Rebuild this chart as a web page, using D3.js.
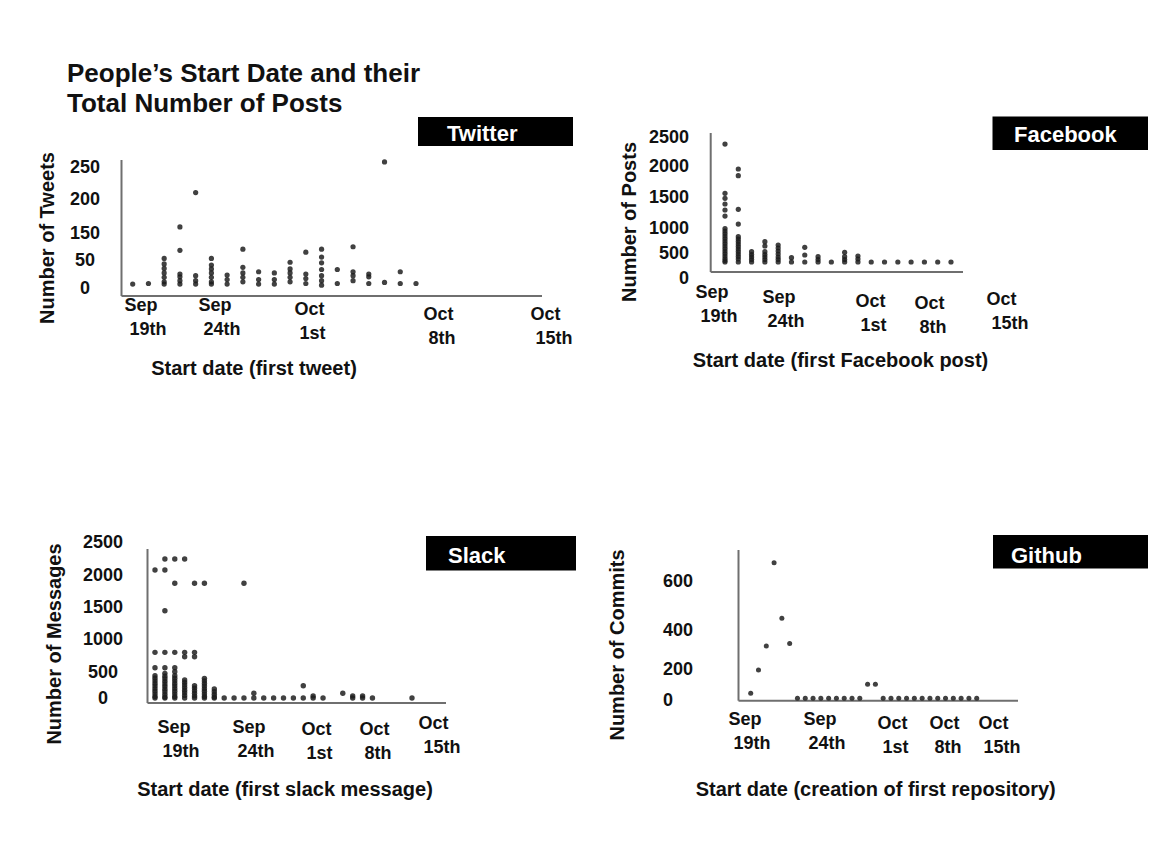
<!doctype html>
<html>
<head>
<meta charset="utf-8">
<title>People's Start Date and their Total Number of Posts</title>
<script src="https://cdnjs.cloudflare.com/ajax/libs/d3/7.8.5/d3.min.js"></script>
<style>
  body { margin: 0; background: #fff; }
  svg { display: block; }
</style>
</head>
<body>
<div id="chart-area"></div>
<script>
var FONT = "'Liberation Sans', Arial, sans-serif";

// x tick labels shared by the four panels
var tickLabels = [["Sep", "19th"], ["Sep", "24th"], ["Oct", "1st"], ["Oct", "8th"], ["Oct", "15th"]];
var tickDays = [19, 24, 31, 38, 45];   // day counted from Sep 0

// y tick values
var twitterTicks = [0, 50, 150, 200, 250];
var facebookTicks = [0, 500, 1000, 1500, 2000, 2500];
var slackTicks = [0, 500, 1000, 1500, 2000, 2500];
var githubTicks = [0, 200, 400, 600];

// one inner array per start-date column, one value per person
var twitterTweets = [
  [7], [8],
  [56, 43, 35, 27, 19, 11, 7],
  [159, 86, 25, 20, 13, 7],
  [210, 22, 13, 7],
  [56, 41, 34, 27, 19, 11, 7],
  [23, 15, 7],
  [90, 37, 27, 19, 11],
  [29, 15, 7],
  [27, 15, 7],
  [46, 34, 27, 19, 11],
  [79, 25, 17, 8],
  [90, 61, 45, 33, 22, 13, 5],
  [33, 8],
  [99, 29, 22, 13],
  [25, 20, 8],
  [258, 10],
  [29, 8],
  [8]
];

var facebookPosts = [
  [2378, 1560, 1479, 1387, 1290, 1193, 990, 940, 890, 840, 790, 740, 690, 640, 590, 540, 490, 440, 390, 350, 320],
  [1952, 1844, 1301, 1064, 826, 780, 730, 680, 630, 580, 530, 480, 430, 380, 320],
  [526, 470, 420, 370, 320],
  [726, 640, 526, 470, 420, 370, 320],
  [660, 600, 540, 480, 420, 370, 320],
  [406, 320],
  [614, 460, 320],
  [426, 370, 320],
  [320],
  [514, 426, 370, 320],
  [440, 380, 320],
  [320], [320], [320], [320], [320], [320], [320]
];

var slackMessages = [
  [2076, 798, 565, 428, 380, 330, 280, 230, 180, 130, 80, 30, 0],
  [2242, 2076, 1441, 798, 565, 474, 420, 370, 320, 270, 220, 170, 120, 70, 20, 0],
  [2242, 1870, 798, 565, 505, 428, 380, 330, 280, 230, 180, 130, 80, 30, 0],
  [2242, 798, 732, 346, 300, 250, 200, 150, 100, 50, 0],
  [1870, 798, 732, 236, 190, 140, 90, 40, 0],
  [1870, 378, 330, 280, 230, 180, 130, 80, 30, 0],
  [173, 120, 70, 20, 0],
  [0], [0],
  [1870, 0],
  [90, 0],
  [0], [0], [0], [0],
  [236, 0],
  [40, 0],
  [0],
  [],
  [90],
  [40, 0],
  [40, 0],
  [0],
  [], [], [],
  [0]
];

var githubCommits = [
  [43], [194], [318], [675], [448], [331],
  [11], [11], [11], [11], [11], [11], [11], [11], [11],
  [101], [101],
  [11], [11], [11], [11], [11], [11], [11], [11], [11], [11], [11], [11], [11]
];

// layout of each panel (pixel positions only)
var panels = [
  { name: "Twitter", data: twitterTweets, ticks: twitterTicks,
    box: [418, 117, 155, 29], nameX: 447, nameY: 140.5,
    yPos: [288, 260, 233, 199, 167], yLabelX: 85, yAnchor: "middle",
    axisX: 121.5, axisTop: 160, axisY: 296, axisRight: 542,
    firstCol: 132.7, lastCol: 416, r: 2.6,
    tickLeft: [124, 198, 294, 423, 530], tickBase: [311, 311, 315, 320, 320],
    xTitle: "Start date (first tweet)", xTitleX: 254, xTitleY: 375,
    yTitle: "Number of Tweets", yTitleX: 47, yTitleY: 238 },
  { name: "Facebook", data: facebookPosts, ticks: facebookTicks,
    box: [992.5, 116.5, 155.5, 33.5], nameX: 1014, nameY: 141.5,
    yPos: [278, 253, 228, 197, 166, 137], yLabelX: 689, yAnchor: "end",
    axisX: 710.7, axisTop: 133, axisY: 272, axisRight: 963,
    firstCol: 725, lastCol: 951, r: 2.6,
    tickLeft: [695, 762, 855, 914, 986], tickBase: [298, 303, 307, 309, 305],
    xTitle: "Start date (first Facebook post)", xTitleX: 840.5, xTitleY: 367,
    yTitle: "Number of Posts", yTitleX: 629, yTitleY: 222 },
  { name: "Slack", data: slackMessages, ticks: slackTicks,
    box: [426, 536, 150, 34.5], nameX: 448, nameY: 563,
    yPos: [698, 672, 639, 607, 575, 542], yLabelX: 103, yAnchor: "middle",
    axisX: 147.5, axisTop: 549, axisY: 703, axisRight: 446,
    firstCol: 155, lastCol: 412, r: 2.7,
    tickLeft: [157, 232, 301, 359, 418], tickBase: [733, 733, 735, 735, 729],
    xTitle: "Start date (first slack message)", xTitleX: 285, xTitleY: 796,
    yTitle: "Number of Messages", yTitleX: 54, yTitleY: 644 },
  { name: "Github", data: githubCommits, ticks: githubTicks,
    box: [993, 535, 155, 33.5], nameX: 1011, nameY: 563,
    yPos: [700, 669, 630, 581], yLabelX: 663, yAnchor: "start",
    axisX: 738.5, axisTop: 550, axisY: 700.7, axisRight: 1018,
    firstCol: 750.7, lastCol: 976.7, r: 2.5,
    tickLeft: [728, 803, 877, 929, 978], tickBase: [725, 725, 729, 729, 729],
    xTitle: "Start date (creation of first repository)", xTitleX: 875.7, xTitleY: 796,
    yTitle: "Number of Commits", yTitleX: 617, yTitleY: 645 }
];

var svg = d3.select("#chart-area").append("svg")
  .attr("width", 1169)
  .attr("height", 861)
  .attr("font-family", FONT)
  .attr("font-weight", "bold")
  .style("background", "#fff");

// slight blur, the original is a scan
svg.append("defs").append("filter")
  .attr("id", "soft")
  .append("feGaussianBlur")
  .attr("stdDeviation", 0.6);

// Title
var title = svg.append("text")
  .attr("x", 67)
  .attr("font-size", 26)
  .attr("fill", "#111");
title.append("tspan").attr("x", 67).attr("y", 81.5).text("People\u2019s Start Date and their");
title.append("tspan").attr("x", 67).attr("y", 111.5).text("Total Number of Posts");

panels.forEach(function(p) {
  var g = svg.append("g").attr("class", "panel");

  // scales
  var y = d3.scaleLinear().domain(p.ticks).range(p.yPos);
  var x = d3.scaleLinear().domain([0, p.data.length - 1]).range([p.firstCol, p.lastCol]);
  var tickX = d3.scaleLinear().domain(tickDays).range(p.tickLeft);

  // axis lines
  g.append("line")
    .attr("x1", p.axisX).attr("x2", p.axisX)
    .attr("y1", p.axisTop).attr("y2", p.axisY)
    .attr("stroke", "#6f6f6f").attr("stroke-width", 2);
  g.append("line")
    .attr("x1", p.axisX).attr("x2", p.axisRight)
    .attr("y1", p.axisY).attr("y2", p.axisY)
    .attr("stroke", "#6f6f6f").attr("stroke-width", 2);

  // y tick labels
  var yAxis = g.append("g")
    .attr("transform", "translate(" + p.yLabelX + ",0)")
    .call(d3.axisLeft(y).tickValues(p.ticks).tickSize(0).tickPadding(0).tickFormat(d3.format("d")));
  yAxis.select(".domain").remove();
  yAxis.attr("font-family", FONT).attr("font-size", 18).attr("text-anchor", p.yAnchor);
  yAxis.selectAll(".tick text").attr("fill", "#111").attr("x", 0);

  // x tick labels (two lines each)
  var xAxis = g.append("g")
    .call(d3.axisBottom(tickX).tickValues(tickDays).tickSize(0).tickFormat(""));
  xAxis.select(".domain").remove();
  xAxis.attr("font-family", FONT).attr("font-size", 18).attr("text-anchor", "start");
  xAxis.selectAll(".tick text").each(function(d, i) {
    var t = d3.select(this).attr("y", null).attr("dy", null).attr("fill", "#111");
    t.append("tspan").attr("x", 0).attr("y", p.tickBase[i]).text(tickLabels[i][0]);
    t.append("tspan").attr("x", 5).attr("y", p.tickBase[i] + 24).text(tickLabels[i][1]);
  });

  // points
  var points = [];
  p.data.forEach(function(col, i) {
    col.forEach(function(v) { points.push({ col: i, value: v }); });
  });
  g.append("g")
    .attr("filter", "url(#soft)")
    .selectAll("circle")
    .data(points)
    .enter().append("circle")
    .attr("cx", function(d) { return x(d.col); })
    .attr("cy", function(d) { return y(d.value); })
    .attr("r", p.r)
    .attr("fill", "#1c1c1c")
    .attr("fill-opacity", 0.85);

  // axis titles
  g.append("text")
    .attr("x", p.xTitleX)
    .attr("y", p.xTitleY)
    .attr("text-anchor", "middle")
    .attr("font-size", 20)
    .attr("fill", "#111")
    .text(p.xTitle);

  g.append("text")
    .attr("transform", "translate(" + (p.yTitleX + 7) + "," + p.yTitleY + ") rotate(-90)")
    .attr("text-anchor", "middle")
    .attr("font-size", 20)
    .attr("fill", "#111")
    .text(p.yTitle);

  // black name box
  g.append("rect")
    .attr("x", p.box[0]).attr("y", p.box[1])
    .attr("width", p.box[2]).attr("height", p.box[3])
    .attr("fill", "#000");
  g.append("text")
    .attr("x", p.nameX)
    .attr("y", p.nameY)
    .attr("font-size", 22)
    .attr("fill", "#fff")
    .text(p.name);
});
</script>
</body>
</html>
